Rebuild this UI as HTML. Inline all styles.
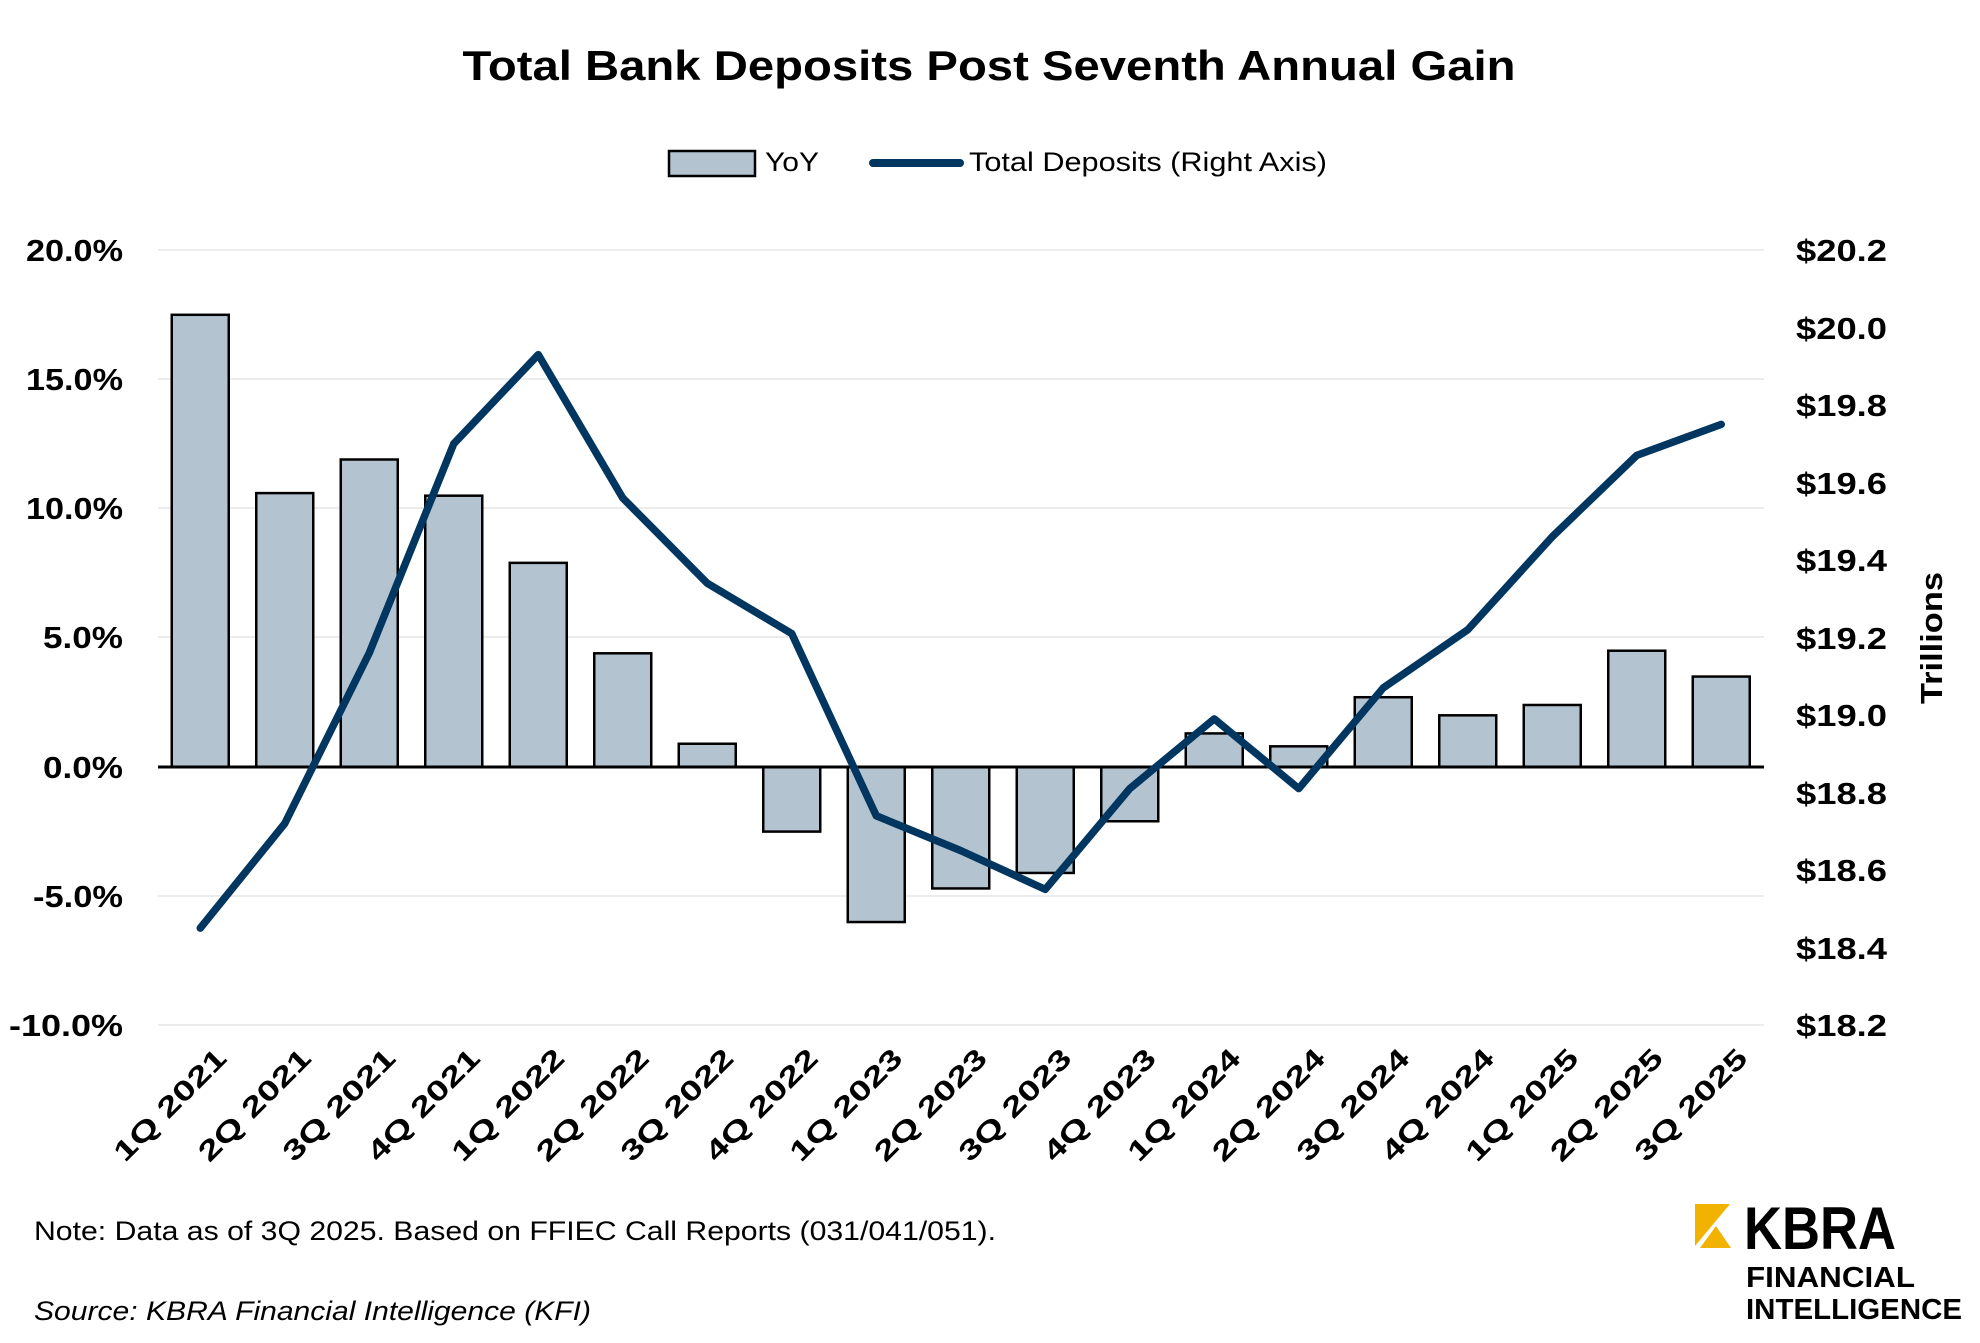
<!DOCTYPE html>
<html><head><meta charset="utf-8"><style>
html,body{margin:0;padding:0;background:#fff;}
svg{display:block;}
text{font-family:"Liberation Sans",Arial,sans-serif;}
</style></head><body>
<svg width="1980" height="1343" viewBox="0 0 1980 1343" xmlns="http://www.w3.org/2000/svg">
<rect width="1980" height="1343" fill="#fff"/>
<text x="989" y="80" font-size="42" font-weight="bold" text-anchor="middle" textLength="1053" lengthAdjust="spacingAndGlyphs">Total Bank Deposits Post Seventh Annual Gain</text>
<!-- legend -->
<rect x="669" y="151" width="86" height="25" fill="#b3c3d0" stroke="#000" stroke-width="2.5"/>
<text x="765" y="171" font-size="27" textLength="54" lengthAdjust="spacingAndGlyphs">YoY</text>
<line x1="873" y1="163" x2="960" y2="163" stroke="#003660" stroke-width="8" stroke-linecap="round"/>
<text x="969" y="171" font-size="27" textLength="358" lengthAdjust="spacingAndGlyphs">Total Deposits (Right Axis)</text>
<!-- gridlines -->
<g stroke="#ececec" stroke-width="2">
<line x1="158" y1="250" x2="1764" y2="250"/>
<line x1="158" y1="379" x2="1764" y2="379"/>
<line x1="158" y1="508" x2="1764" y2="508"/>
<line x1="158" y1="637" x2="1764" y2="637"/>
<line x1="158" y1="896" x2="1764" y2="896"/>
<line x1="158" y1="1025" x2="1764" y2="1025"/>
</g>
<!-- left labels -->
<g font-size="31" font-weight="bold" text-anchor="end">
<text x="123" y="261" textLength="97" lengthAdjust="spacingAndGlyphs">20.0%</text>
<text x="123" y="390" textLength="97" lengthAdjust="spacingAndGlyphs">15.0%</text>
<text x="123" y="519" textLength="97" lengthAdjust="spacingAndGlyphs">10.0%</text>
<text x="123" y="648" textLength="80" lengthAdjust="spacingAndGlyphs">5.0%</text>
<text x="123" y="778" textLength="80" lengthAdjust="spacingAndGlyphs">0.0%</text>
<text x="123" y="907" textLength="90" lengthAdjust="spacingAndGlyphs">-5.0%</text>
<text x="123" y="1036" textLength="114" lengthAdjust="spacingAndGlyphs">-10.0%</text>
</g>
<!-- right labels -->
<g font-size="31" font-weight="bold">
<text x="1796" y="261" textLength="91" lengthAdjust="spacingAndGlyphs">$20.2</text>
<text x="1796" y="339" textLength="91" lengthAdjust="spacingAndGlyphs">$20.0</text>
<text x="1796" y="416" textLength="91" lengthAdjust="spacingAndGlyphs">$19.8</text>
<text x="1796" y="494" textLength="91" lengthAdjust="spacingAndGlyphs">$19.6</text>
<text x="1796" y="571" textLength="91" lengthAdjust="spacingAndGlyphs">$19.4</text>
<text x="1796" y="649" textLength="91" lengthAdjust="spacingAndGlyphs">$19.2</text>
<text x="1796" y="726" textLength="91" lengthAdjust="spacingAndGlyphs">$19.0</text>
<text x="1796" y="804" textLength="91" lengthAdjust="spacingAndGlyphs">$18.8</text>
<text x="1796" y="881" textLength="91" lengthAdjust="spacingAndGlyphs">$18.6</text>
<text x="1796" y="959" textLength="91" lengthAdjust="spacingAndGlyphs">$18.4</text>
<text x="1796" y="1036" textLength="91" lengthAdjust="spacingAndGlyphs">$18.2</text>
</g>
<text transform="translate(1942,638) rotate(-90)" font-size="31" font-weight="bold" text-anchor="middle" textLength="132" lengthAdjust="spacingAndGlyphs">Trillions</text>
<!-- bars -->
<g id="bars" fill="#b3c3d0" stroke="#000" stroke-width="2.5"></g>
<line x1="158" y1="767" x2="1764" y2="767" stroke="#000" stroke-width="3"/>
<polyline id="ln" fill="none" stroke="#003660" stroke-width="7.5" stroke-linejoin="round" stroke-linecap="round"/>
<g id="xl" font-size="28" font-weight="bold"></g>
<!-- notes -->
<text x="34" y="1240" font-size="27" textLength="962" lengthAdjust="spacingAndGlyphs">Note: Data as of 3Q 2025. Based on FFIEC Call Reports (031/041/051).</text>
<text x="34" y="1320" font-size="27" font-style="italic" textLength="557" lengthAdjust="spacingAndGlyphs">Source: KBRA Financial Intelligence (KFI)</text>
<!-- logo -->
<polygon points="1695,1204 1730,1204 1695,1246" fill="#f2b200"/>
<polygon points="1716,1226 1731,1248 1700,1248" fill="#f2b200"/>
<text x="1744" y="1249" font-size="60" font-weight="bold" textLength="152" lengthAdjust="spacingAndGlyphs">KBRA</text>
<text x="1746" y="1287" font-size="29" font-weight="bold" textLength="169" lengthAdjust="spacingAndGlyphs">FINANCIAL</text>
<text x="1746" y="1319" font-size="29" font-weight="bold" textLength="216" lengthAdjust="spacingAndGlyphs">INTELLIGENCE</text>
<script>
var yoy=[17.5,10.6,11.9,10.5,7.9,4.4,0.9,-2.5,-6.0,-4.7,-4.1,-2.1,1.3,0.8,2.7,2.0,2.4,4.5,3.5];
var dep=[18.45,18.72,19.16,19.70,19.93,19.56,19.34,19.21,18.74,18.65,18.55,18.81,18.99,18.81,19.07,19.22,19.46,19.67,19.75];
var labs=["1Q 2021","2Q 2021","3Q 2021","4Q 2021","1Q 2022","2Q 2022","3Q 2022","4Q 2022","1Q 2023","2Q 2023","3Q 2023","4Q 2023","1Q 2024","2Q 2024","3Q 2024","4Q 2024","1Q 2025","2Q 2025","3Q 2025"];
var ns="http://www.w3.org/2000/svg",L=158,W=84.5,bw=57,y0=767,pp=25.84;
var bars=document.getElementById('bars'),xl=document.getElementById('xl'),pts=[];
for(var i=0;i<19;i++){
 var cx=L+W*(i+0.5);
 var y=y0-yoy[i]*pp;
 var r=document.createElementNS(ns,'rect');
 r.setAttribute('x',cx-bw/2);r.setAttribute('width',bw);
 r.setAttribute('y',Math.min(y,y0));r.setAttribute('height',Math.abs(y0-y));
 bars.appendChild(r);
 pts.push(cx+','+(250+(20.2-dep[i])/0.2*77.5));
 var t=document.createElementNS(ns,'text');
 t.setAttribute('transform','translate('+(cx+28)+',1060) rotate(-45)');
 t.setAttribute('text-anchor','end');
 t.setAttribute('textLength','146');t.setAttribute('lengthAdjust','spacingAndGlyphs');
 t.textContent=labs[i];
 xl.appendChild(t);
}
document.getElementById('ln').setAttribute('points',pts.join(' '));
</script>
</svg>
</body></html>
